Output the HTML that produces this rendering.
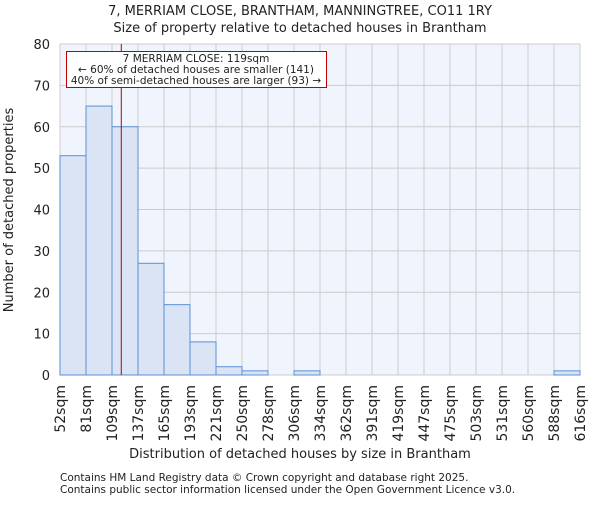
<!DOCTYPE html>
<html><head><meta charset="utf-8"><style>
body{margin:0;background:#fff}
svg text{font-family:"DejaVu Sans","Liberation Sans",sans-serif;fill:#222}
</style></head><body>
<svg width="600" height="500">
<text x="300" y="15" text-anchor="middle" font-size="13">7, MERRIAM CLOSE, BRANTHAM, MANNINGTREE, CO11 1RY</text>
<text x="300" y="32" text-anchor="middle" font-size="13">Size of property relative to detached houses in Brantham</text>
<rect x="60" y="44" width="520" height="331" fill="#f0f4fc"/>
<g id="grid"></g><g id="bars"></g><g id="ticks"></g>
<text x="300" y="458" text-anchor="middle" font-size="13">Distribution of detached houses by size in Brantham</text>
<text transform="translate(13,210) rotate(-90)" text-anchor="middle" font-size="13">Number of detached properties</text>
<line id="marker" y1="44" y2="375" stroke="#c00000" stroke-width="1"/>
<g>
<rect x="66.5" y="51.5" width="260" height="36" fill="#fff" stroke="#c00000"/>
<text x="196" y="62" text-anchor="middle" font-size="10.5">7 MERRIAM CLOSE: 119sqm</text>
<text x="196" y="73" text-anchor="middle" font-size="10.5">← 60% of detached houses are smaller (141)</text>
<text x="196" y="84" text-anchor="middle" font-size="10.5">40% of semi-detached houses are larger (93) →</text>
</g>
<text x="60" y="481" font-size="10.5" fill="#555">Contains HM Land Registry data © Crown copyright and database right 2025.</text>
<text x="60" y="493" font-size="10.5" fill="#555">Contains public sector information licensed under the Open Government Licence v3.0.</text>
</svg>
<script>
const binLabels=["52sqm","81sqm","109sqm","137sqm","165sqm","193sqm","221sqm","250sqm","278sqm","306sqm","334sqm","362sqm","391sqm","419sqm","447sqm","475sqm","503sqm","531sqm","560sqm","588sqm","616sqm"];
const binEdges=[52,81,109,137,165,193,221,250,278,306,334,362,391,419,447,475,503,531,560,588,616];
const counts=[53,65,60,27,17,8,2,1,0,1,0,0,0,0,0,0,0,0,0,1];
const yTicks=[0,10,20,30,40,50,60,70,80];
const propertySize=119;
const NS="http://www.w3.org/2000/svg";
const X0=60,X1=580,Y0=375,Y1=44,n=counts.length,bw=(X1-X0)/n;
const y=v=>Y0-(v/80)*(Y0-Y1);
const xi=i=>X0+i*bw;
function xv(v){for(let i=0;i<binEdges.length-1;i++){if(v<=binEdges[i+1])return xi(i)+bw*(v-binEdges[i])/(binEdges[i+1]-binEdges[i]);}return X1;}
function mk(t,a,p){const e=document.createElementNS(NS,t);for(const k in a)e.setAttribute(k,a[k]);p.appendChild(e);return e;}
const g=document.getElementById('grid'),b=document.getElementById('bars'),tk=document.getElementById('ticks');
yTicks.forEach(v=>{const l=mk('line',{x1:X0,x2:X1,y1:y(v),y2:y(v),stroke:'#ccc'},g);


const t=mk('text',{x:50,y:y(v)+5,'text-anchor':'end','font-size':13},tk);t.textContent=v;

});
binLabels.forEach((s,i)=>{const l=mk('line',{x1:xi(i),x2:xi(i),y1:Y1,y2:Y0,stroke:'#ccc'},g);


const t=mk('text',{transform:`translate(${xi(i)+5},${Y0+10}) rotate(-90)`,'text-anchor':'end','font-size':14},tk);t.textContent=s;

});
counts.forEach((c,i)=>{if(c<=0)return;const r=mk('rect',{x:xi(i),y:y(c),width:bw,height:Y0-y(c),fill:'#dae4f4',stroke:'#5b8fd6','stroke-width':1},b);

});
const m=document.getElementById('marker');m.setAttribute('x1',xv(propertySize));m.setAttribute('x2',xv(propertySize));
</script>
</body></html>
